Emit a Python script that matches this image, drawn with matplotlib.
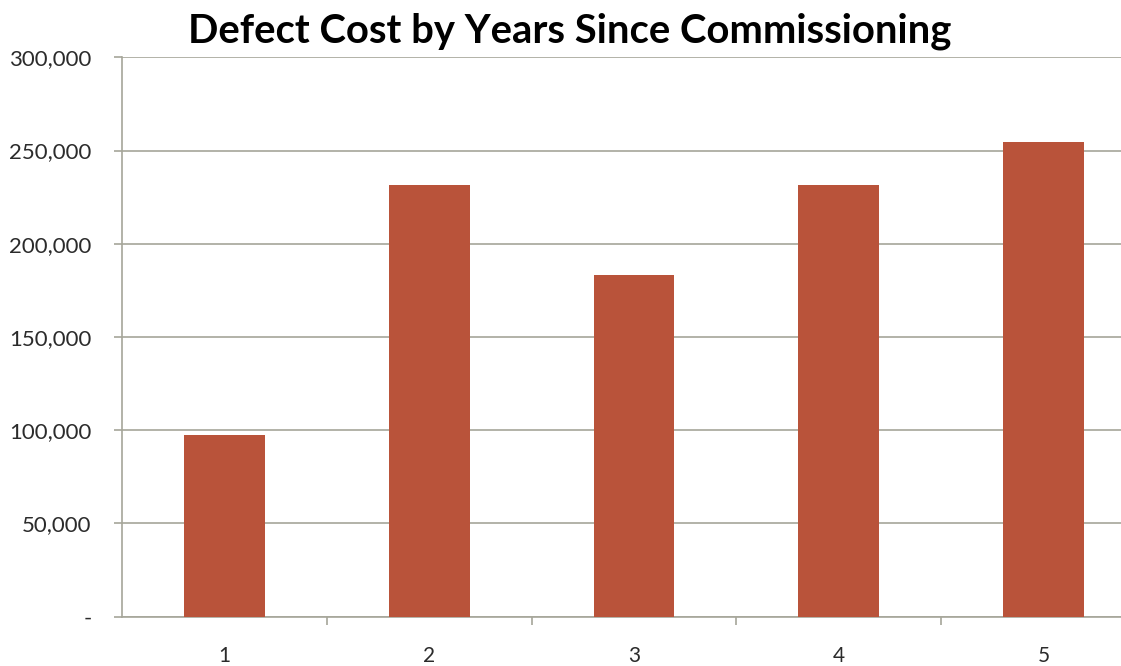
import matplotlib
matplotlib.use("Agg")
import matplotlib.pyplot as plt
from matplotlib.ticker import FuncFormatter, FixedLocator

years = [1, 2, 3, 4, 5]
defect_cost = [97500, 231600, 183300, 231600, 254800]
y_ticks = [0, 50000, 100000, 150000, 200000, 250000, 300000]

BAR_COLOR = "#B9533A"
GRID_COLOR = "#A6A69A"
TEXT_COLOR = "#2B2B2B"

plt.rcParams["font.family"] = ["Lato", "DejaVu Sans"]

fig = plt.figure(figsize=(11.21, 6.66), dpi=100)
# plot area runs slightly past the right edge of the canvas
ax = fig.add_axes([0.1088, 0.074, 0.9135, 0.840])

ax.bar(years, defect_cost, width=0.395, color=BAR_COLOR, zorder=3)

ax.set_xlim(0.5, 5.5)
ax.set_ylim(0, 300000)
ax.set_yticks(y_ticks)
ax.yaxis.set_major_formatter(FuncFormatter(lambda v, _: "-" if v == 0 else f"{v:,.0f}"))
ax.grid(axis="y", color=GRID_COLOR, lw=1.2, zorder=0)

ax.set_xticks(years)
ax.set_xticklabels([str(y) for y in years])
ax.xaxis.set_minor_locator(FixedLocator([1.5, 2.5, 3.5, 4.5]))
ax.tick_params(axis="x", which="major", length=0, pad=21, labelsize=15, labelcolor=TEXT_COLOR)
ax.tick_params(axis="x", which="minor", length=6, width=1.2, color=GRID_COLOR, direction="out")
ax.tick_params(axis="y", length=6, width=1.2, color=GRID_COLOR, pad=16, labelsize=16,
               labelcolor=TEXT_COLOR)

for side in ("top", "right"):
    ax.spines[side].set_visible(False)
for side in ("left", "bottom"):
    ax.spines[side].set_color(GRID_COLOR)
    ax.spines[side].set_linewidth(1.2)

fig.text(0.508, 0.953, "Defect Cost by Years Since Commissioning", ha="center", va="center",
         fontsize=28.8, fontweight="bold", color="black")

fig.savefig("out.png", dpi=100)
